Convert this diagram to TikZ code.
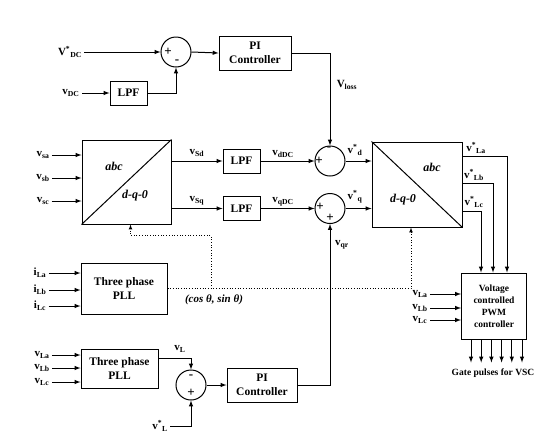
\documentclass[tikz,border=0pt]{standalone}
\usepackage{fontspec}
\setmainfont{Liberation Serif}
\usetikzlibrary{calc}
\newcommand{\sg}[2]{#1\textsubscript{#2}}
\newcommand{\sgs}[2]{#1\textsuperscript{*}\textsubscript{#2}}

\begin{document}
\begin{tikzpicture}[x=1pt,y=-1pt,>=latex,line width=1pt,
    font=\fontsize{11.5}{14}\selectfont\bfseries,
    blk/.style={draw,align=center,inner sep=0pt},
    sumc/.style={draw,circle,minimum size=30pt,inner sep=0pt},
    lbl/.style={inner sep=2pt,font=\fontsize{11}{12}\selectfont\bfseries},
    sgn/.style={inner sep=0pt,font=\fontsize{13}{14}\selectfont\bfseries},
    dot/.style={dotted,line width=0.7pt}]
  \useasboundingbox (0,0) rectangle (550,448);

  % DC voltage loop
  \node[lbl] (vdcref) at (70,52) {\sgs{V}{DC}};
  \node[lbl] (vdc) at (71,93) {\sg{v}{DC}};
  \node[blk,minimum width=37pt,minimum height=24pt] (lpf1) at (128.5,93) {LPF};
  \node[sumc] (s1) at (176,52) {};
  \node[sgn] (s1p) at (168,52) {+};
  \node[sgn] (s1m) at (177,62) {-};
  \node[blk,minimum width=72pt,minimum height=34pt] (pi1) at (255,53) {PI\\Controller};
  \draw[->] (vdcref) -- (s1.west);
  \draw[->] (vdc) -- (lpf1.west);
  \draw[->] (lpf1.east) -| (s1.south);
  \draw[->] (s1.east) -- (pi1.west);

  % abc -> dq0
  \node[blk,minimum width=89pt,minimum height=84pt] (t1) at (126.5,182) {};
  \draw (t1.south west) -- (t1.north east);
  \node[font=\fontsize{12}{14}\selectfont\bfseries\itshape] (t1a) at (114,166) {abc};
  \node[font=\fontsize{12}{14}\selectfont\bfseries\itshape] (t1d) at (135,196) {d-q-0};
  \node[lbl] (vsa) at (43,155) {\sg{v}{sa}};
  \node[lbl] (vsb) at (43,178) {\sg{v}{sb}};
  \node[lbl] (vsc) at (43,201) {\sg{v}{sc}};
  \foreach \n in {vsa,vsb,vsc}
    \draw[->] (\n) -- (\n -| t1.west);

  \node[blk,minimum width=37pt,minimum height=24pt] (lpfd) at (241.5,161) {LPF};
  \node[blk,minimum width=37pt,minimum height=24pt] (lpfq) at (241.5,208.5) {LPF};
  \node[lbl] (vsd) at (197,153) {\sg{v}{Sd}};
  \node[lbl] (vsq) at (197,201) {\sg{v}{Sq}};
  \draw[->] (t1.east |- lpfd) -- (lpfd.west);
  \draw[->] (t1.east |- lpfq) -- (lpfq.west);

  % summing junctions
  \node[sumc] (sd) at (330,161) {};
  \node[sgn] (sdm) at (329,149) {-};
  \node[sgn] (sdp) at (319,161) {+};
  \node[sumc] (sq) at (330,208.5) {};
  \node[sgn] (sqp) at (320,207) {+};
  \node[sgn] (sqb) at (330,218) {+};
  \node[lbl] (vddc) at (283,154) {\sg{v}{dDC}};
  \node[lbl] (vqdc) at (283,202) {\sg{v}{qDC}};
  \draw[->] (lpfd.east) -- (sd.west);
  \draw[->] (lpfq.east) -- (sq.west);
  \draw[->] (pi1.east) -| (sd.north);
  \node[lbl] (vloss) at (347,85) {\sg{V}{loss}};

  % dq0 -> abc
  \node[blk,minimum width=90pt,minimum height=85pt] (t2) at (417,184.5) {};
  \draw (t2.north west) -- (t2.south east);
  \node[font=\fontsize{12}{14}\selectfont\bfseries\itshape] (t2a) at (432,167) {abc};
  \node[font=\fontsize{12}{14}\selectfont\bfseries\itshape] (t2d) at (403,200) {d-q-0};
  \node[lbl] (vdr) at (355,150) {\sgs{v}{d}};
  \node[lbl] (vqref) at (355,197) {\sgs{v}{q}};
  \draw[->] (sd.east) -- (sd -| t2.west);
  \draw[->] (sq.east) -- (sq -| t2.west);

  % PWM controller
  \node[blk,minimum width=65pt,minimum height=66pt,
        font=\fontsize{9.5}{12}\selectfont\bfseries] (pwm) at (494,306)
        {Voltage\\controlled\\PWM\\controller};
  \node[lbl] (vla) at (476,148) {\sgs{v}{La}};
  \node[lbl] (vlb) at (474,175) {\sgs{v}{Lb}};
  \node[lbl] (vlc) at (474,202) {\sgs{v}{Lc}};
  \draw[->] ($(t2.north east)+(0,15)$) -| ($(pwm.north)+(13,0)$);
  \draw[->] ($(t2.east)+(0,-1)$) -| ($(pwm.north)+(-1,0)$);
  \draw[->] ($(t2.south east)+(0,-16)$) -| ($(pwm.north)+(-13,0)$);
  \node[lbl] (pla) at (420,294) {\sg{v}{La}};
  \node[lbl] (plb) at (420,308) {\sg{v}{Lb}};
  \node[lbl] (plc) at (420,320) {\sg{v}{Lc}};
  \foreach \n in {pla,plb,plc}
    \draw[->] (\n) -- (\n -| pwm.west);
  \foreach \i in {0,...,5}
    \draw[->] ($(pwm.south)+({-23+10.2*\i},0)$) -- ++(0,23);
  \node[font=\fontsize{9.5}{12}\selectfont\bfseries] (gate) at (493,373) {Gate pulses for VSC};

  % PLL for load currents
  \node[blk,minimum width=86pt,minimum height=51pt] (pll1) at (124,288.5) {Three phase\\PLL};
  \node[lbl] (ila) at (40,273) {\sg{i}{La}};
  \node[lbl] (ilb) at (40,290) {\sg{i}{Lb}};
  \node[lbl] (ilc) at (40,306) {\sg{i}{Lc}};
  \foreach \n in {ila,ilb,ilc}
    \draw[->] (\n) -- (\n -| pll1.west);
  \coordinate (tap) at (211,288.5);
  \draw[dot,->] (pll1.east) -| ($(t2.south)+(-6,0)$);
  \draw[dot,->] (tap) |- ($(t1.south)+(4,11)$) -- ($(t1.south)+(4,0)$);
  \node[font=\fontsize{11}{12}\selectfont\bfseries\itshape] (cs) at (214,300) {(cos θ, sin θ)};

  % AC voltage loop
  \node[blk,minimum width=77pt,minimum height=39pt] (pll2) at (119.5,368.5) {Three phase\\PLL};
  \node[lbl] (vpa) at (42,355) {\sg{v}{La}};
  \node[lbl] (vpb) at (42,368) {\sg{v}{Lb}};
  \node[lbl] (vpc) at (42,382) {\sg{v}{Lc}};
  \foreach \n in {vpa,vpb,vpc}
    \draw[->] (\n) -- (\n -| pll2.west);
  \node[sumc] (s3) at (191,385) {};
  \node[sgn] (s3m) at (191,377) {-};
  \node[sgn] (s3p) at (191,393) {+};
  \node[lbl] (vl) at (180,349) {\sg{v}{L}};
  \node[lbl] (vlref) at (160,426) {\sgs{v}{L}};
  \node[blk,minimum width=70pt,minimum height=34pt] (pi2) at (262,385) {PI\\Controller};
  \draw[->] ($(pll2.east)+(0,-10)$) -| (s3.north);
  \draw[->] (vlref.east) -| (s3.south);
  \draw[->] (s3.east) -- (pi2.west);
  \draw[->] (pi2.east) -| (sq.south);
  \node[lbl] (vqr) at (342,245) {\sg{v}{qr}};
\end{tikzpicture}
\end{document}
